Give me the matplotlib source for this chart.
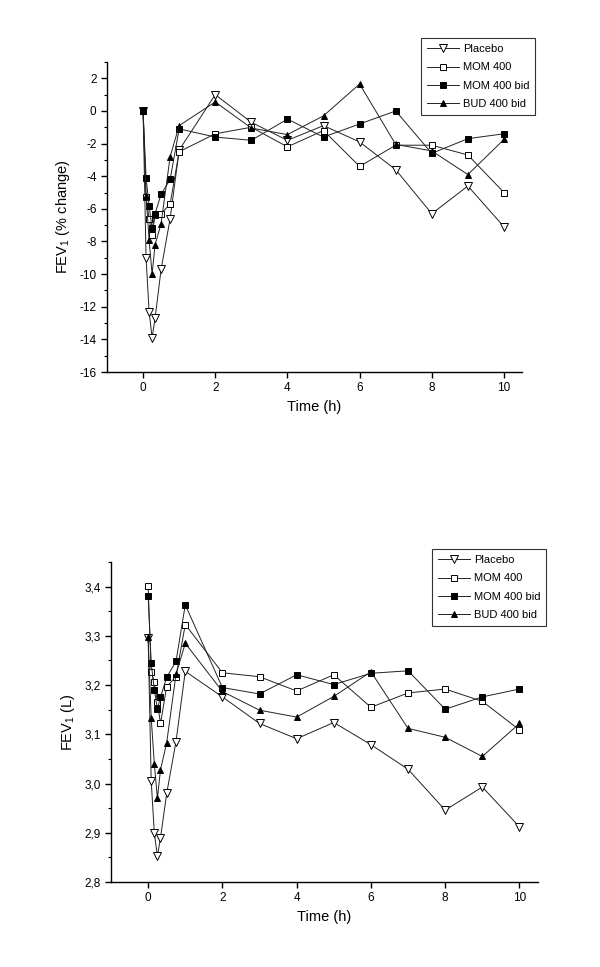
import matplotlib
matplotlib.use("Agg")
import matplotlib.pyplot as plt
from matplotlib.ticker import MultipleLocator, FuncFormatter

plt.rcParams['font.family'] = ['Liberation Sans', 'DejaVu Sans']
plt.rcParams['axes.unicode_minus'] = False

# time points (h)
t = [0, 0.083, 0.167, 0.25, 0.333, 0.5, 0.75, 1, 2, 3, 4, 5, 6, 7, 8, 9, 10]

labels = ["Placebo", "MOM 400", "MOM 400 bid", "BUD 400 bid"]

# top panel: FEV1 % change
placebo_pct = [0, -9.0, -12.3, -13.9, -12.7, -9.7, -6.6, -2.4, 1.0, -0.7, -1.8, -0.9, -1.9, -3.6, -6.3, -4.6, -7.1]
mom_pct = [0, -5.3, -6.6, -7.6, -6.4, -6.3, -5.7, -2.5, -1.4, -1.0, -2.2, -1.2, -3.4, -2.1, -2.1, -2.7, -5.0]
mombid_pct = [0, -4.1, -5.8, -7.2, -6.3, -5.1, -4.2, -1.1, -1.6, -1.8, -0.5, -1.6, -0.8, 0.0, -2.6, -1.7, -1.4]
bud_pct = [0, -5.2, -7.9, -10.0, -8.2, -6.9, -2.8, -0.9, 0.55, -1.05, -1.45, -0.3, 1.65, -2.05, -2.45, -3.9, -1.75]

# bottom panel: FEV1 (L)
placebo_L = [3.295, 3.005, 2.899, 2.852, 2.89, 2.98, 3.085, 3.228, 3.176, 3.122, 3.091, 3.124, 3.079, 3.029, 2.946, 2.993, 2.912]
mom_L = [3.401, 3.226, 3.206, 3.165, 3.122, 3.197, 3.217, 3.323, 3.225, 3.217, 3.188, 3.221, 3.155, 3.184, 3.192, 3.167, 3.109]
mombid_L = [3.381, 3.244, 3.19, 3.152, 3.175, 3.216, 3.248, 3.363, 3.195, 3.182, 3.221, 3.201, 3.224, 3.229, 3.151, 3.176, 3.192]
bud_L = [3.297, 3.133, 3.04, 2.97, 3.028, 3.083, 3.222, 3.285, 3.187, 3.149, 3.135, 3.177, 3.227, 3.112, 3.094, 3.055, 3.122]

styles = [
    dict(marker="v", ms=5.5, mfc="white", mec="black"),
    dict(marker="s", ms=4, mfc="white", mec="black"),
    dict(marker="s", ms=4, mfc="black", mec="black"),
    dict(marker="^", ms=5, mfc="black", mec="black"),
]

fig = plt.figure(figsize=(6, 9.67), dpi=100)
ax1 = fig.add_axes([0.1783, 0.6153, 0.6917, 0.3206])
ax2 = fig.add_axes([0.185, 0.0879, 0.7117, 0.3309])


def style_axes(ax):
    for s in ["top", "right"]:
        ax.spines[s].set_visible(False)
    for s in ["left", "bottom"]:
        ax.spines[s].set_linewidth(1.0)
    ax.tick_params(which="major", direction="out", length=4, width=1, labelsize=8.5)
    ax.tick_params(which="minor", direction="out", length=2, width=0.8)
    ax.set_xlim(-1, 10.5)
    ax.xaxis.set_major_locator(MultipleLocator(2))
    ax.set_xlabel("Time (h)", fontsize=10.5, labelpad=4)


for ax, series in [(ax1, [placebo_pct, mom_pct, mombid_pct, bud_pct]),
                   (ax2, [placebo_L, mom_L, mombid_L, bud_L])]:
    for y, lab, st in zip(series, labels, styles):
        ax.plot(t, y, color="#222222", lw=0.7, mew=0.7, label=lab, **st)
    style_axes(ax)

ax1.set_ylim(-16, 3)
ax1.yaxis.set_major_locator(MultipleLocator(2))
ax1.yaxis.set_minor_locator(MultipleLocator(1))
ax1.set_ylabel("FEV$_\\mathregular{1}$ (% change)", fontsize=10.5, labelpad=5)

ax2.set_ylim(2.8, 3.45)
ax2.yaxis.set_major_locator(MultipleLocator(0.1))
ax2.yaxis.set_minor_locator(MultipleLocator(0.05))
ax2.yaxis.set_major_formatter(FuncFormatter(lambda v, p: f"{v:.1f}".replace(".", ",")))
ax2.set_ylabel("FEV$_\\mathregular{1}$ (L)", fontsize=10.5, labelpad=5)

leg_kw = dict(loc="upper left", fontsize=8, frameon=True, fancybox=False,
              handlelength=2.9, borderpad=0.55, labelspacing=0.75, handletextpad=0.3,
              borderaxespad=0, bbox_transform=fig.transFigure)
leg1 = ax1.legend(bbox_to_anchor=(421 / 600, 1 - 38 / 967), **leg_kw)
leg2 = ax2.legend(bbox_to_anchor=(432 / 600, 1 - 549 / 967), **leg_kw)
for leg in (leg1, leg2):
    leg.get_frame().set_edgecolor("black")
    leg.get_frame().set_linewidth(0.8)

fig.savefig("out.png", dpi=100)
